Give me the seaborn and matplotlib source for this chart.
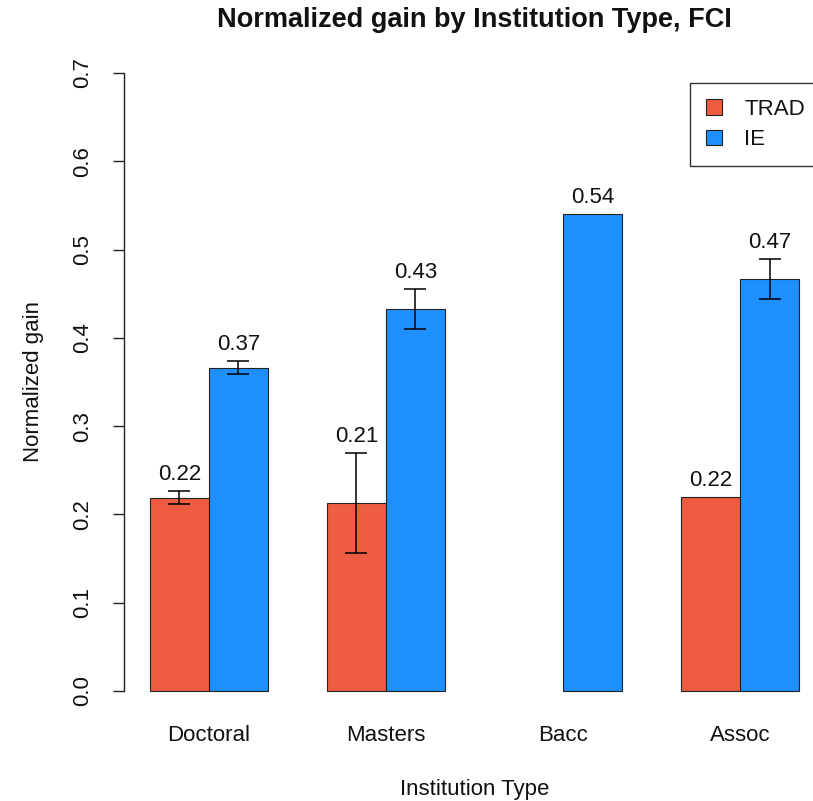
import numpy as np
import pandas as pd
import matplotlib
matplotlib.use("Agg")
import matplotlib.pyplot as plt
import seaborn as sns

# Mean normalized gain (with standard error) per institution type and method
institutions = ["Doctoral", "Masters", "Bacc", "Assoc"]
methods = ["TRAD", "IE"]
trad_gain = [0.219, 0.213, np.nan, 0.220]
ie_gain = [0.366, 0.433, 0.540, 0.467]
trad_se = [0.0074, 0.0566, np.nan, 0.0]
ie_se = [0.0074, 0.0227, 0.0, 0.0226]
y_ticks = [0.0, 0.1, 0.2, 0.3, 0.4, 0.5, 0.6, 0.7]
palette = {"TRAD": "#EE5C42", "IE": "#1E90FF"}

gains = {"TRAD": trad_gain, "IE": ie_gain}
errors = {"TRAD": trad_se, "IE": ie_se}

rows = []
for m in methods:
    for inst, g, e in zip(institutions, gains[m], errors[m]):
        rows.append({"Institution": inst, "Method": m, "Gain": g, "SE": e})
df = pd.DataFrame(rows).dropna(subset=["Gain"])

sns.set_theme(style="white")
plt.rcParams["font.family"] = ["Liberation Sans", "DejaVu Sans"]

W, H = 813, 801
fig = plt.figure(figsize=(W / 100, H / 100), dpi=100)
ax_left, ax_right = 124, 825
ax_top, ax_bottom = 48.3, 715.7
ax = fig.add_axes([ax_left / W, (H - ax_bottom) / H,
                   (ax_right - ax_left) / W, (ax_bottom - ax_top) / H])

sns.barplot(data=df, x="Institution", y="Gain", hue="Method",
            order=institutions, hue_order=methods, palette=palette,
            width=2 / 3, errorbar=None, edgecolor="#222222", linewidth=0.8,
            saturation=1, ax=ax)

# error bars and value labels above each bar
for container, m in zip(ax.containers, methods):
    for bar in container:
        xc = bar.get_x() + bar.get_width() / 2
        idx = int(round(xc))
        val = gains[m][idx]
        se = errors[m][idx]
        if se > 0:
            ax.errorbar(xc, val, yerr=se, fmt="none", ecolor="black",
                        elinewidth=1.1, capsize=8, capthick=1.1, zorder=5)
        ax.text(xc, val + se + 0.0187, f"{val:.2f}", ha="center",
                va="center", fontsize=16, color="#111111")

ax.set_xlim(-0.48, 3.48)
ax.set_ylim(-0.028, 0.728)
ax.set_yticks(y_ticks)
ax.set_yticklabels([f"{t:.1f}" for t in y_ticks], rotation=90, va="center")
for s in ["top", "right", "bottom"]:
    ax.spines[s].set_visible(False)
ax.spines["left"].set_bounds(0, 0.7)
ax.spines["left"].set_color("#222222")
ax.spines["left"].set_linewidth(1.0)
ax.tick_params(axis="y", direction="out", length=8, width=1.0,
               color="#222222", labelsize=16, pad=14, left=True)
ax.tick_params(axis="x", length=0, labelsize=16, pad=7)
for lab in ax.get_xticklabels() + ax.get_yticklabels():
    lab.set_color("#111111")

ax.set_xlabel("Institution Type", fontsize=16, color="#111111")
ax.xaxis.set_label_coords(0.5, -0.0955)
ax.set_ylabel("Normalized gain", fontsize=16, color="#111111")
ax.yaxis.set_label_coords(-0.1136, 0.5)

fig.text((ax_left + ax_right) / 2 / W, 1 - 27 / H,
         "Normalized gain by Institution Type, FCI",
         ha="center", va="baseline", fontsize=19.5, fontweight="bold",
         color="#111111")

handles, labels = ax.get_legend_handles_labels()
leg = ax.legend(handles, labels, loc="upper right",
                bbox_to_anchor=((ax_right - 4) / W, 1 - 83 / H),
                bbox_transform=fig.transFigure, borderaxespad=0,
                fontsize=16, frameon=True, fancybox=False, framealpha=1,
                edgecolor="#333333", handlelength=0.7, handleheight=0.7,
                handletextpad=1.0, labelspacing=0.42, borderpad=0.72)
leg.get_frame().set_linewidth(1.0)
for t in leg.get_texts():
    t.set_color("#111111")

fig.savefig("out.png", dpi=100)
